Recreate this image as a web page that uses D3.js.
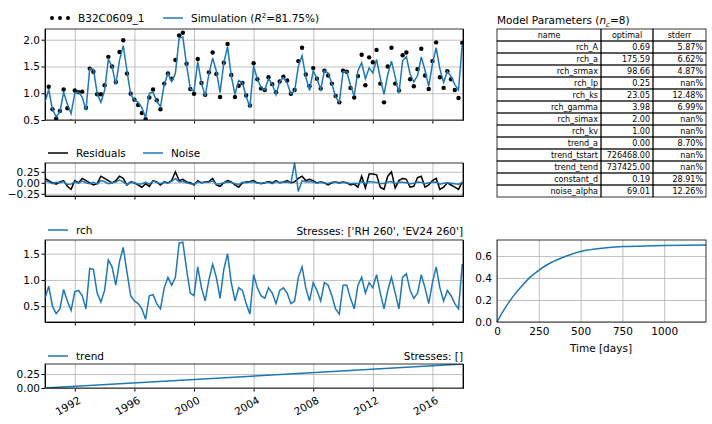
<!DOCTYPE html>
<html><head><meta charset="utf-8">
<script src="https://cdn.jsdelivr.net/npm/d3@7"></script>
<style>body{margin:0;background:#fff}text{font-family:"DejaVu Sans",sans-serif}</style>
</head><body><div id="chart"></div>
<script>
// quarterly samples 1990.00 .. 2018.00
var startYear = 1990, step = 0.25;
var observed = [.94,1.12,.70,.53, .67,1.07,.72,.47, 1.05,1.02,1.03,.73, 1.46,1.40,.98,.98, 1.15,1.68,1.50,1.21,
  1.77,1.99,1.37,.99, .88,.78,.63,.52, .92,1.07,.87,.70, 1.18,1.37,1.27,1.62, 2.08,2.13,1.55,1.08,
  .99,1.64,1.19,.97, 1.39,1.76,1.36,.93, 1.57,1.92,1.34,.93, 1.14,1.19,.96,.77, 1.56,1.26,1.09,1.06,
  1.30,1.17,1.02,1.22, 1.31,1.24,.99,1.06, 1.60,1.85,1.35,1.13, 1.47,1.27,1.09,1.42, 1.33,1.18,.95,.83,
  1.42,1.40,1.10,.92, 1.32,1.72,1.15,1.67, 1.58,1.81,1.18,.83, 1.50,1.85,1.18,1.05, 1.71,1.76,1.26,1.13,
  1.45,1.83,1.33,1.08, 1.60,1.95,1.30,1.10, 1.41,1.26,1.06,.91, 1.94];
var simulation = [.84,1.07,.70,.56, .65,1.02,.80,.62, 1.00,1.02,.93,.68, 1.46,1.45,1.00,.83, 1.05,1.63,1.50,1.16,
  1.62,1.89,1.42,.97, .88,.83,.73,.54, 1.00,1.02,.85,.75, 1.16,1.37,1.22,1.37, 2.03,2.05,1.53,1.08,
  1.04,1.59,1.19,.95, 1.36,1.66,1.41,1.01, 1.57,1.87,1.32,.98, 1.24,1.19,.94,.74, 1.51,1.26,1.11,1.06,
  1.27,1.17,.97,1.22, 1.29,1.19,.99,1.04, 1.50,1.70,1.30,1.05, 1.42,1.27,1.07,1.42, 1.38,1.18,.93,.83,
  1.40,1.40,1.15,.95, 1.42,1.57,1.27,1.47, 1.38,1.63,1.28,.98, 1.35,1.60,1.30,1.00, 1.61,1.68,1.36,1.21,
  1.33,1.68,1.43,1.13, 1.55,1.85,1.45,1.20, 1.41,1.31,1.16,1.06, 1.92];
var residuals = [.10,.05,.00,-.03, .02,.05,-.08,-.15, .05,.00,.10,.05, .00,-.05,-.02,.15, .10,.05,.00,.05,
  .15,.10,-.05,.02, .00,-.05,-.10,-.02, -.08,.05,.02,-.05, .02,.00,.05,.25, .05,.08,.02,.00,
  -.05,.05,.00,.02, .03,.10,-.05,-.08, .00,.05,.02,-.05, -.10,.00,.02,.03, .05,.00,-.02,.00,
  .03,.00,.05,.00, .02,.05,.00,.02, .10,.15,.05,.08, .05,.00,.02,.00, -.05,.00,.02,.00,
  .02,.00,-.05,-.03, -.10,.15,-.12,.20, .20,.18,-.10,-.15, .15,.25,-.12,.05, .10,.08,-.10,-.08,
  .12,.15,-.10,-.05, .05,.10,-.15,-.10, .00,-.05,-.10,-.15, .02];
var noise = [.05,.02,-.02,.01, .00,.03,-.04,-.03, .02,-.01,.04,.00, -.02,.01,-.03,.05, .03,-.02,.00,.02,
  .06,.02,-.04,.01, .00,-.03,-.02,.01, -.03,.04,.01,-.02, .01,-.01,.03,.10, .02,.03,.00,-.02,
  -.03,.02,.00,.01, .01,.04,-.03,-.02, .00,.02,.01,-.02, -.04,.01,.00,.02, .02,-.01,-.01,.00,
  .01,-.02,.03,.00, .01,.02,.00,.45, -.20,.05,.02,.03, .02,-.01,.01,.00, -.02,.01,.01,-.01,
  .01,.00,-.02,-.01, -.02,.03,-.02,.03, .02,.01,-.02,-.01, .02,.03,-.02,.01, .01,.00,-.02,-.01,
  .02,.01,-.02,.00, .01,.02,-.03,-.01, .00,-.01,-.02,-.03, .01];
var recharge = [.65,.88,.50,.36, .45,.82,.60,.42, .78,.80,.70,.45, 1.22,1.20,.75,.58, .80,1.38,1.25,.90,
  1.35,1.62,1.15,.70, .60,.55,.45,.25, .70,.72,.55,.45, .85,1.05,.90,1.05, 1.70,1.72,1.20,.75,
  .70,1.25,.85,.60, 1.00,1.30,1.05,.65, 1.20,1.50,.95,.60, .85,.80,.55,.35, 1.10,.85,.70,.65,
  .85,.75,.55,.80, .85,.75,.55,.60, 1.05,1.25,.85,.60, .95,.80,.60,.95, .90,.70,.45,.35,
  .90,.90,.65,.45, .90,1.05,.75,.95, .85,1.10,.75,.45, .80,1.05,.75,.45, 1.05,1.12,.80,.65,
  .75,1.10,.85,.55, .95,1.25,.85,.60, .80,.70,.55,.45, 1.30];
var trendYears = [1990, 2018.05], trendValues = [0.0, 0.43];
var stepDays = [0,50,100,150,200,250,300,400,500,600,750,1000,1250];
var stepValues = [0,.13,.24,.33,.41,.47,.52,.59,.64,.665,.685,.695,.70];
var paramNames = ["rch_A","rch_a","rch_srmax","rch_lp","rch_ks","rch_gamma","rch_simax","rch_kv","trend_a","trend_tstart","trend_tend","constant_d","noise_alpha"];
var paramOptimal = ["0.69","175.59","98.66","0.25","23.05","3.98","2.00","1.00","0.00","726468.00","737425.00","0.19","69.01"];
var paramStderr = ["5.87%","6.62%","4.87%","nan%","12.48%","6.99%","nan%","nan%","8.70%","nan%","nan%","28.91%","12.26%"];
var yearTicks = [1992,1996,2000,2004,2008,2012,2016];

var blue = "#1f77b4";
var svg = d3.select("#chart").append("svg").attr("width", 712).attr("height", 424);
var x = d3.scaleLinear().domain([1990, 2018.05]).range([45, 463]);
function tOf(i) { return startYear + i * step; }

function panel(y0, y1, domain, ticks, fmt) {
  var y = d3.scaleLinear().domain(domain).range([y1, y0]);
  var g = svg.append("g");
  g.append("g").attr("transform", "translate(0," + y1 + ")")
    .call(d3.axisBottom(x).tickValues(yearTicks).tickFormat("").tickSize(-(y1 - y0)))
    .call(s => s.selectAll(".tick line").attr("stroke", "#b0b0b0").attr("stroke-width", 0.8));
  g.append("g").attr("transform", "translate(0," + y1 + ")")
    .call(d3.axisBottom(x).tickValues(yearTicks).tickFormat("").tickSize(3.5))
    .call(s => s.select(".domain").remove());
  g.append("g").attr("transform", "translate(45,0)")
    .call(d3.axisLeft(y).tickValues(ticks).tickFormat(fmt).tickSize(-418))
    .call(s => s.selectAll(".tick line").attr("stroke", "#b0b0b0").attr("stroke-width", 0.8))
    .call(s => s.select(".domain").remove())
    .call(s => s.selectAll("text").attr("font-size", 10.5).attr("fill", "#000").attr("x", -5));
  g.append("g").attr("transform", "translate(45,0)")
    .call(d3.axisLeft(y).tickValues(ticks).tickFormat("").tickSize(3.5))
    .call(s => s.select(".domain").remove());
  var clip = "c" + y0;
  svg.append("clipPath").attr("id", clip).append("rect").attr("x", 45).attr("y", y0).attr("width", 418).attr("height", y1 - y0);
  var plot = svg.append("g").attr("clip-path", "url(#" + clip + ")");
  svg.append("rect").attr("x", 45).attr("y", y0).attr("width", 418).attr("height", y1 - y0)
    .attr("fill", "none").attr("stroke", "#000").attr("stroke-width", 0.8);
  return {y: y, plot: plot};
}
function series(p, vals, color, w) {
  p.plot.append("path").datum(vals)
    .attr("d", d3.line().x((d, i) => x(tOf(i))).y(d => p.y(d)))
    .attr("fill", "none").attr("stroke", color).attr("stroke-width", w);
}
function legendItem(x0, y0, label, color, dots) {
  if (dots) {
    [0, 8, 16].forEach(dx => svg.append("circle").attr("cx", x0 + 2 + dx).attr("cy", y0).attr("r", 2).attr("fill", "#000"));
  } else {
    svg.append("line").attr("x1", x0).attr("x2", x0 + 20).attr("y1", y0).attr("y2", y0).attr("stroke", color).attr("stroke-width", 1.5);
  }
  svg.append("text").attr("x", x0 + 28).attr("y", y0 + 4).attr("font-size", 10.5).html(label);
}

// observations and simulation
var p1 = panel(29, 120, [0.5, 2.2], [0.5, 1.0, 1.5, 2.0], d3.format(".1f"));
p1.plot.selectAll("circle").data(observed).join("circle")
  .attr("cx", (d, i) => x(tOf(i))).attr("cy", d => p1.y(d)).attr("r", 2.2).attr("fill", "#000");
series(p1, simulation, blue, 1.5);
legendItem(50, 18, "B32C0609_1", "#000", true);
legendItem(163, 18, "Simulation (<tspan font-style='italic'>R</tspan><tspan dy='-4' font-size='7'>2</tspan><tspan dy='4'>=81.75%)</tspan>", blue, false);

// residuals and noise
var p2 = panel(163, 196, [-0.3, 0.45], [-0.25, 0, 0.25], d3.format(".2f"));
series(p2, residuals, "#000", 1.5);
series(p2, noise, blue, 1.5);
legendItem(48, 153, "Residuals", "#000", false);
legendItem(143, 153, "Noise", blue, false);

// recharge contribution
var p3 = panel(240, 322, [0.2, 1.76], [0.5, 1.0, 1.5], d3.format(".1f"));
series(p3, recharge, blue, 1.5);
legendItem(48, 230, "rch", blue, false);
svg.append("text").attr("x", 463).attr("y", 235).attr("text-anchor", "end").attr("font-size", 10.5).text("Stresses: ['RH 260', 'EV24 260']");

// trend
var p4 = panel(364, 388, [0, 0.43], [0, 0.25], d3.format(".2f"));
p4.plot.append("path").datum(trendYears)
  .attr("d", d3.line().x(d => x(d)).y((d, i) => p4.y(trendValues[i])))
  .attr("fill", "none").attr("stroke", blue).attr("stroke-width", 1.5);
legendItem(48, 356, "trend", blue, false);
svg.append("text").attr("x", 463).attr("y", 360).attr("text-anchor", "end").attr("font-size", 10.5).text("Stresses: []");
svg.append("g").selectAll("text").data(yearTicks).join("text")
  .attr("transform", d => "translate(" + (x(d) + 3) + ",396) rotate(-30)")
  .attr("text-anchor", "end").attr("dy", "0.7em").attr("font-size", 10.5).text(d => d);

// step response
var sx = d3.scaleLinear().domain([0, 1250]).range([497, 706]);
var sy = d3.scaleLinear().domain([0, 0.745]).range([322, 240]);
var sg = svg.append("g");
sg.append("g").attr("transform", "translate(0,322)")
  .call(d3.axisBottom(sx).tickValues([0, 250, 500, 750, 1000]).tickFormat(d3.format("d")).tickSize(-82))
  .call(s => s.selectAll(".tick line").attr("stroke", "#b0b0b0").attr("stroke-width", 0.8))
  .call(s => s.select(".domain").remove())
  .call(s => s.selectAll("text").attr("font-size", 10.5).attr("fill", "#000").attr("y", 6));
sg.append("g").attr("transform", "translate(497,0)")
  .call(d3.axisLeft(sy).tickValues([0, 0.2, 0.4, 0.6]).tickFormat(d3.format(".1f")).tickSize(-209))
  .call(s => s.selectAll(".tick line").attr("stroke", "#b0b0b0").attr("stroke-width", 0.8))
  .call(s => s.select(".domain").remove())
  .call(s => s.selectAll("text").attr("font-size", 10.5).attr("fill", "#000").attr("x", -5));
sg.append("path").datum(stepDays)
  .attr("d", d3.line().curve(d3.curveMonotoneX).x(d => sx(d)).y((d, i) => sy(stepValues[i])))
  .attr("fill", "none").attr("stroke", blue).attr("stroke-width", 1.5);
sg.append("rect").attr("x", 497).attr("y", 240).attr("width", 209).attr("height", 82)
  .attr("fill", "none").attr("stroke", "#000").attr("stroke-width", 0.8);
sg.append("text").attr("x", 601).attr("y", 352).attr("text-anchor", "middle").attr("font-size", 10.5).text("Time [days]");

// parameter table
svg.append("text").attr("x", 497).attr("y", 24).attr("font-size", 10.5)
  .html("Model Parameters (<tspan font-style='italic'>n</tspan><tspan dy='3' font-size='7' font-style='italic'>c</tspan><tspan dy='-3'>=8)</tspan>");
var cols = [497, 601, 653, 706], rowH = 12, tableTop = 29;
var rows = [["name", "optimal", "stderr"]].concat(paramNames.map((n, i) => [n, paramOptimal[i], paramStderr[i]]));
rows.forEach(function(r, i) {
  r.forEach(function(c, j) {
    svg.append("rect").attr("x", cols[j]).attr("y", tableTop + i * rowH).attr("width", cols[j + 1] - cols[j]).attr("height", rowH)
      .attr("fill", "none").attr("stroke", "#000").attr("stroke-width", 0.8);
    var t = svg.append("text").attr("y", tableTop + i * rowH + rowH - 3).attr("font-size", 8).text(c);
    if (i == 0) t.attr("x", (cols[j] + cols[j + 1]) / 2).attr("text-anchor", "middle");
    else t.attr("x", cols[j + 1] - 3).attr("text-anchor", "end");
  });
});
</script></body></html>
